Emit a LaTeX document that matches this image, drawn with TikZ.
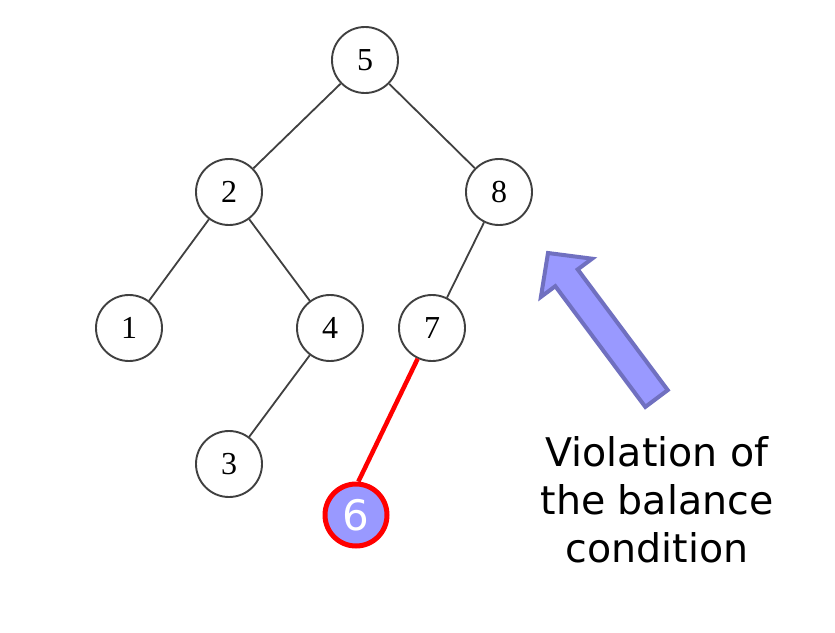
\documentclass[tikz,border=0pt]{standalone}
\usepackage{fontspec}
\setmainfont{Liberation Serif}
\newfontfamily\labelfont{DejaVu Sans}
\definecolor{nodefill}{HTML}{9999FF}
\definecolor{arrowedge}{HTML}{7070C0}
\definecolor{treeline}{HTML}{404040}
\begin{document}
\begin{tikzpicture}[x=1pt,y=-1pt,
  tnode/.style={circle,draw=treeline,line width=1.9pt,minimum size=66pt,inner sep=0pt,font=\fontsize{32}{32}\selectfont},
  hnode/.style={circle,draw=red,fill=nodefill,line width=5pt,minimum size=62pt,inner sep=0pt,text=white,font=\labelfont\fontsize{42}{42}\selectfont},
  tedge/.style={draw=treeline,line width=1.8pt},
  redge/.style={draw=red,line width=4.5pt}]
\useasboundingbox (0,0) rectangle (835,632);
\node[tnode] (n5) at (365,60) {5};
\node[tnode] (n2) at (229,192) {2};
\node[tnode] (n8) at (499,192) {8};
\node[tnode] (n1) at (129,328) {1};
\node[tnode] (n4) at (330,328) {4};
\node[tnode] (n7) at (432,328) {7};
\node[tnode] (n3) at (229,464) {3};
\node[hnode] (n6) at (356,515) {6};
\draw[tedge] (n5) -- (n2);
\draw[tedge] (n5) -- (n8);
\draw[tedge] (n2) -- (n1);
\draw[tedge] (n2) -- (n4);
\draw[tedge] (n8) -- (n7);
\draw[tedge] (n4) -- (n3);
\draw[redge] (n7.245) -- (n6.86);
\draw[fill=nodefill,draw=arrowedge,line width=4pt,line join=miter]
  (548,253) -- (592.1,258.7) -- (577.7,269.4) -- (667.7,390.1) -- (645.3,406.9)
  -- (555.3,286.2) -- (540.9,296.9) -- cycle;
\node[align=center,font=\labelfont\fontsize{39.5}{48}\selectfont] (lbl) at (657,500) {Violation of\\the balance\\condition};
\end{tikzpicture}
\end{document}
